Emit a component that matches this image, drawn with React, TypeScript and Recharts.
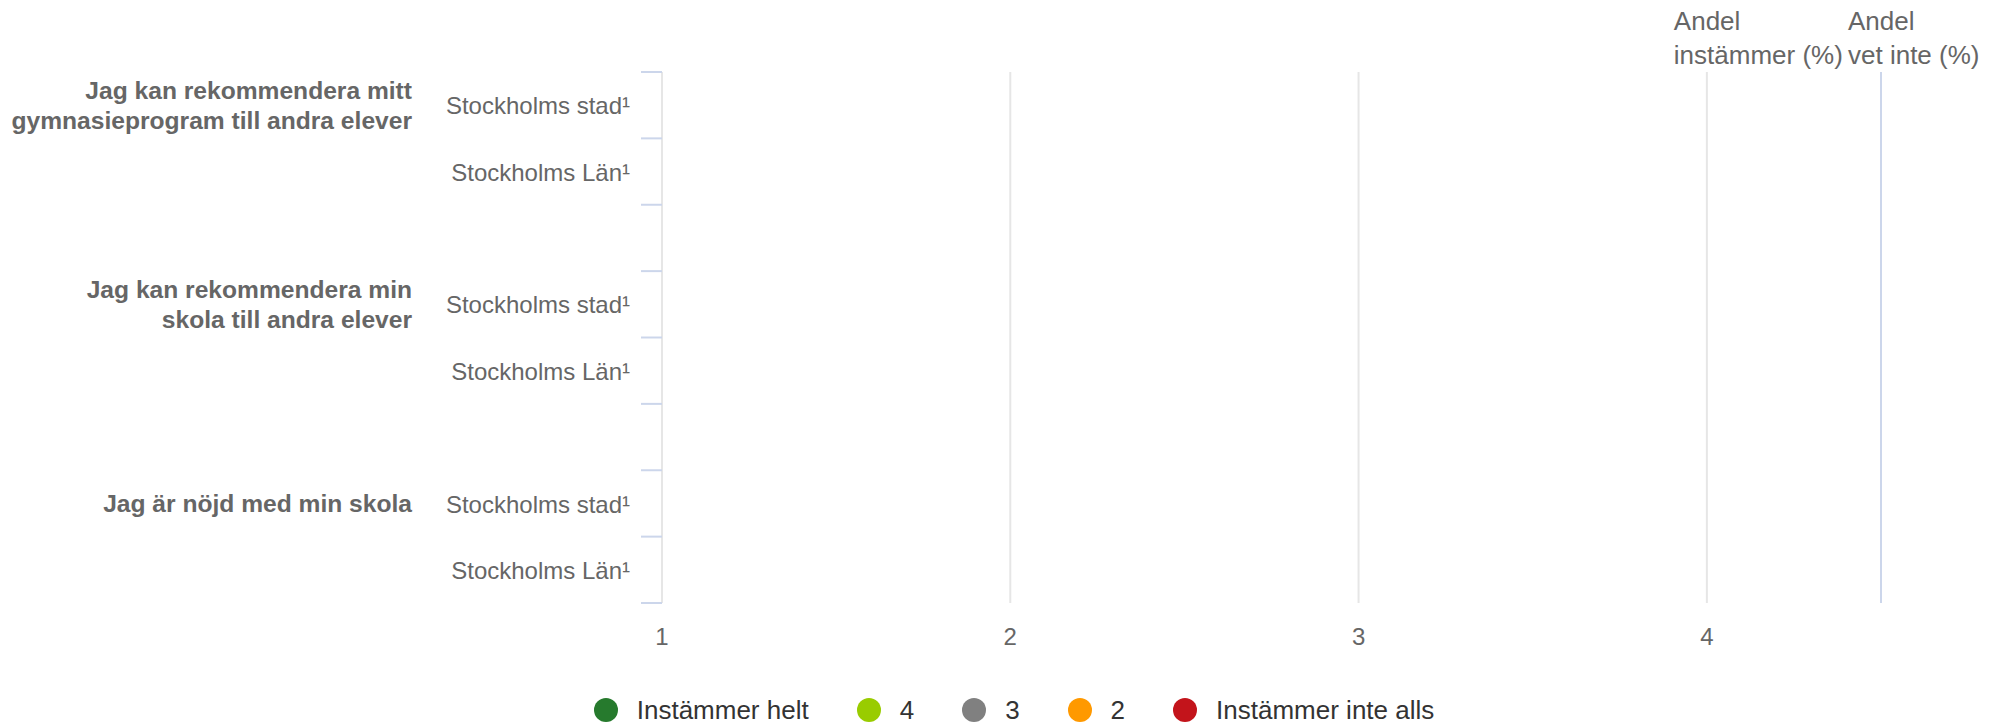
import { BarChart, Bar, XAxis, YAxis, CartesianGrid, ReferenceLine, Legend } from "recharts";

const FONT = '"Liberation Sans", Arial, Helvetica, sans-serif';

// rader i diagrammet (tomma rader skiljer frågorna åt)
const rowIds = ["g1-stad", "g1-lan", "gap1", "g2-stad", "g2-lan", "gap2", "g3-stad", "g3-lan"];
const rowLabels = [
    "Stockholms stad¹",
    "Stockholms Län¹",
    "",
    "Stockholms stad¹",
    "Stockholms Län¹",
    "",
    "Stockholms stad¹",
    "Stockholms Län¹",
];
const groupLabels: string[][] = [
    ["Jag kan rekommendera mitt", "gymnasieprogram till andra elever"],
    [],
    [],
    ["Jag kan rekommendera min", "skola till andra elever"],
    [],
    [],
    ["Jag är nöjd med min skola"],
    [],
];

// svarsalternativ – inga värden redovisas i diagrammet
const seriesKeys = ["helt", "fyra", "tre", "tva", "inteAlls"];
const seriesNames = ["Instämmer helt", "4", "3", "2", "Instämmer inte alls"];
const seriesColors = ["#267a2d", "#99cc00", "#808080", "#ff9900", "#c3141b"];
const heltValues: (number | null)[] = [null, null, null, null, null, null, null, null];
const fyraValues: (number | null)[] = [null, null, null, null, null, null, null, null];
const treValues: (number | null)[] = [null, null, null, null, null, null, null, null];
const tvaValues: (number | null)[] = [null, null, null, null, null, null, null, null];
const inteAllsValues: (number | null)[] = [null, null, null, null, null, null, null, null];

const xTicks = [1, 2, 3, 4];
const xDomain = [1, 4.5];
const andelInstammerAt = 4;
const andelVetInteAt = 4.5;
const andelInstammerHeader = ["Andel", "instämmer (%)"];
const andelVetInteHeader = ["Andel", "vet inte (%)"];

const seriesValues = [heltValues, fyraValues, treValues, tvaValues, inteAllsValues];
const data = rowIds.map((id, i) => {
    const row: Record<string, string | number | null> = { id };
    seriesKeys.forEach((key, s) => {
        row[key] = seriesValues[s][i];
    });
    return row;
});

const RowTick = (props: any) => {
    const { x, y, payload } = props;
    const i = rowIds.indexOf(payload.value);
    const half = payload.offset ?? 33;
    const lines = groupLabels[i] || [];
    const isLast = i === rowIds.length - 1;
    return (
        <g>
            <line x1={x - 21} x2={x} y1={y - half} y2={y - half} stroke="#ccd6eb" strokeWidth={2} />
            {isLast && <line x1={x - 21} x2={x} y1={y + half} y2={y + half} stroke="#ccd6eb" strokeWidth={2} />}
            <text x={x - 32} y={y} dy="0.38em" textAnchor="end" fontSize={24} fill="#666666">
                {rowLabels[i]}
            </text>
            {lines.map((line, k) => (
                <text
                    key={k}
                    x={x - 250}
                    y={y + (k - (lines.length - 1) / 2) * 30}
                    dy="0.355em"
                    textAnchor="end"
                    fontSize={24.6}
                    fontWeight="bold"
                    fill="#666666"
                >
                    {line}
                </text>
            ))}
        </g>
    );
};

const HeaderLabel = ({ viewBox, lines }: any) => {
    if (!viewBox) return null;
    return (
        <text x={viewBox.x - 33} y={viewBox.y - 42} fontSize={26} fill="#666666" textAnchor="start">
            {lines.map((line: string, k: number) => (
                <tspan key={k} x={viewBox.x - 33} dy={k === 0 ? 0 : 34}>
                    {line}
                </tspan>
            ))}
        </text>
    );
};

const LegendRow = ({ payload }: any) => {
    const items = [...(payload || [])].sort(
        (a: any, b: any) => seriesNames.indexOf(a.value) - seriesNames.indexOf(b.value)
    );
    return (
        <div
            style={{
                display: "flex",
                justifyContent: "center",
                alignItems: "center",
                paddingLeft: 32,
                fontSize: 26,
                color: "#333333",
                fontFamily: FONT,
            }}
        >
            {items.map((entry: any, i: number) => (
                <div
                    key={entry.value}
                    style={{ display: "flex", alignItems: "center", marginRight: i < items.length - 1 ? 48 : 0 }}
                >
                    <span
                        style={{
                            display: "inline-block",
                            width: 24,
                            height: 24,
                            borderRadius: "50%",
                            backgroundColor: entry.color,
                            marginRight: 19,
                        }}
                    />
                    <span>{entry.value}</span>
                </div>
            ))}
        </div>
    );
};

export default function App() {
    return (
        <div style={{ position: "absolute", left: 0, top: 0, width: 1996, height: 726, background: "#ffffff" }}>
            <BarChart
                width={1996}
                height={726}
                data={data}
                layout="vertical"
                margin={{ top: 72, right: 115, bottom: 63, left: 0 }}
                style={{ fontFamily: FONT }}
            >
                <CartesianGrid horizontal={false} vertical stroke="#e6e6e6" strokeWidth={2} />
                <XAxis
                    type="number"
                    domain={xDomain}
                    ticks={xTicks}
                    allowDataOverflow
                    axisLine={false}
                    tickLine={false}
                    tickSize={0}
                    tickMargin={25}
                    height={60}
                    tick={{ fontSize: 24, fill: "#666666" }}
                />
                <YAxis
                    type="category"
                    dataKey="id"
                    width={662}
                    axisLine={false}
                    tickLine={false}
                    tickSize={0}
                    tickMargin={0}
                    interval={0}
                    tick={<RowTick />}
                />
                {seriesKeys.map((key, s) => (
                    <Bar
                        key={key}
                        dataKey={key}
                        name={seriesNames[s]}
                        stackId="svar"
                        fill={seriesColors[s]}
                        legendType="circle"
                        isAnimationActive={false}
                    />
                ))}
                <ReferenceLine
                    x={andelInstammerAt}
                    stroke="none"
                    label={(p: any) => <HeaderLabel {...p} lines={andelInstammerHeader} />}
                />
                <ReferenceLine
                    x={andelVetInteAt}
                    stroke="#ccd6eb"
                    strokeWidth={2}
                    label={(p: any) => <HeaderLabel {...p} lines={andelVetInteHeader} />}
                />
                <Legend
                    layout="horizontal"
                    verticalAlign="middle"
                    align="center"
                    content={<LegendRow />}
                    wrapperStyle={{ top: 695, left: 0, width: 1996, height: 30, lineHeight: "30px" }}
                />
            </BarChart>
        </div>
    );
}
